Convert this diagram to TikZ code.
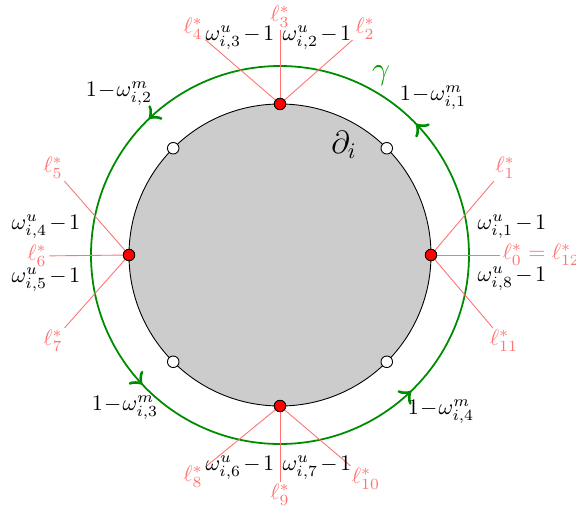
\documentclass[tikz,border=0pt]{standalone}
\usetikzlibrary{decorations.markings}
\newcommand{\wu}[1]{\omega^u_{i,#1}\mkern-2mu-\mkern-2mu1}
\newcommand{\wm}[1]{1\!-\!\omega^m_{i,#1}}
\begin{document}
\begin{tikzpicture}[x=0.45pt,y=0.45pt,
  lab/.style={text=red!55, font=\normalsize, inner sep=1pt},
  ray/.style={draw=red!55, line width=0.4pt},
  dotbase/.style={circle, draw=black, line width=0.4pt, minimum size=5.2pt, inner sep=0pt},
  reddot/.style={dotbase, fill=red},
  whitedot/.style={dotbase, fill=white},
  wlab/.style={inner sep=0pt},
  gamcol/.style={green!55!black}]
\useasboundingbox (-280,-257) rectangle (296,255);
% domain
\draw[fill=black!20, line width=0.4pt] (0,0) circle[radius=151];
% contour gamma
\draw[gamcol, line width=0.8pt, postaction={decorate},
  decoration={markings,
    mark=at position 0.122 with {\arrow[scale=1.8]{>}},
    mark=at position 0.372 with {\arrow[scale=1.8]{>}},
    mark=at position 0.620 with {\arrow[scale=1.8]{>}},
    mark=at position 0.872 with {\arrow[scale=1.8]{>}}}]
  (0,0) circle[radius=189];
% points on the boundary
\coordinate (R) at (0:151);
\coordinate (T) at (90:151);
\coordinate (L) at (180:151);
\coordinate (B) at (270:151);
% ray labels
\node[lab, anchor=west] (l0) at (220,0) {$\ell^*_0=\ell^*_{12}$};
\node[lab] (l1) at (225,87) {$\ell^*_1$};
\node[lab] (l2) at (85,226) {$\ell^*_2$};
\node[lab] (l3) at (0,238) {$\ell^*_3$};
\node[lab] (l4) at (-87,226) {$\ell^*_4$};
\node[lab] (l5) at (-227,87) {$\ell^*_5$};
\node[lab] (l6) at (-243,-1) {$\ell^*_6$};
\node[lab] (l7) at (-227,-86) {$\ell^*_7$};
\node[lab] (l8) at (-87,-222) {$\ell^*_8$};
\node[lab] (l9) at (0,-240) {$\ell^*_9$};
\node[lab] (l10) at (86,-224) {$\ell^*_{10}$};
\node[lab] (l11) at (224,-86) {$\ell^*_{11}$};
% rays
\draw[ray] (R) -- (l0.west);
\draw[ray] (R) -- (l1);
\draw[ray] (R) -- (l11);
\draw[ray] (T) -- (l2);
\draw[ray] (T) -- (l3);
\draw[ray] (T) -- (l4);
\draw[ray] (L) -- (l5);
\draw[ray] (L) -- (l6);
\draw[ray] (L) -- (l7);
\draw[ray] (B) -- (l8);
\draw[ray] (B) -- (l9);
\draw[ray] (B) -- (l10);
% dots
\node[reddot] (Rd) at (R) {};
\node[reddot] (Td) at (T) {};
\node[reddot] (Ld) at (L) {};
\node[reddot] (Bd) at (B) {};
\node[whitedot] (w1) at (45:151) {};
\node[whitedot] (w2) at (135:151) {};
\node[whitedot] (w3) at (225:151) {};
\node[whitedot] (w4) at (315:151) {};
% omega u labels
\node[wlab] (u1) at (232,28) {$\wu{1}$};
\node[wlab] (u8) at (232,-23.5) {$\wu{8}$};
\node[wlab] (u2) at (37,217) {$\wu{2}$};
\node[wlab] (u3) at (-40,217) {$\wu{3}$};
\node[wlab] (u4) at (-234,28) {$\wu{4}$};
\node[wlab] (u5) at (-234,-25) {$\wu{5}$};
\node[wlab] (u6) at (-40,-213) {$\wu{6}$};
\node[wlab] (u7) at (37,-213) {$\wu{7}$};
% omega m labels
\node[wlab] (m1) at (153,157) {$\wm{1}$};
\node[wlab] (m2) at (-161,161) {$\wm{2}$};
\node[wlab] (m3) at (-155,-153) {$\wm{3}$};
\node[wlab] (m4) at (161,-157) {$\wm{4}$};
% names
\node[wlab, text=green!60!black, font=\Large] (gam) at (101,179) {$\gamma$};
\node[wlab, font=\Large] (dom) at (64,110) {$\partial_i$};
\end{tikzpicture}
\end{document}
